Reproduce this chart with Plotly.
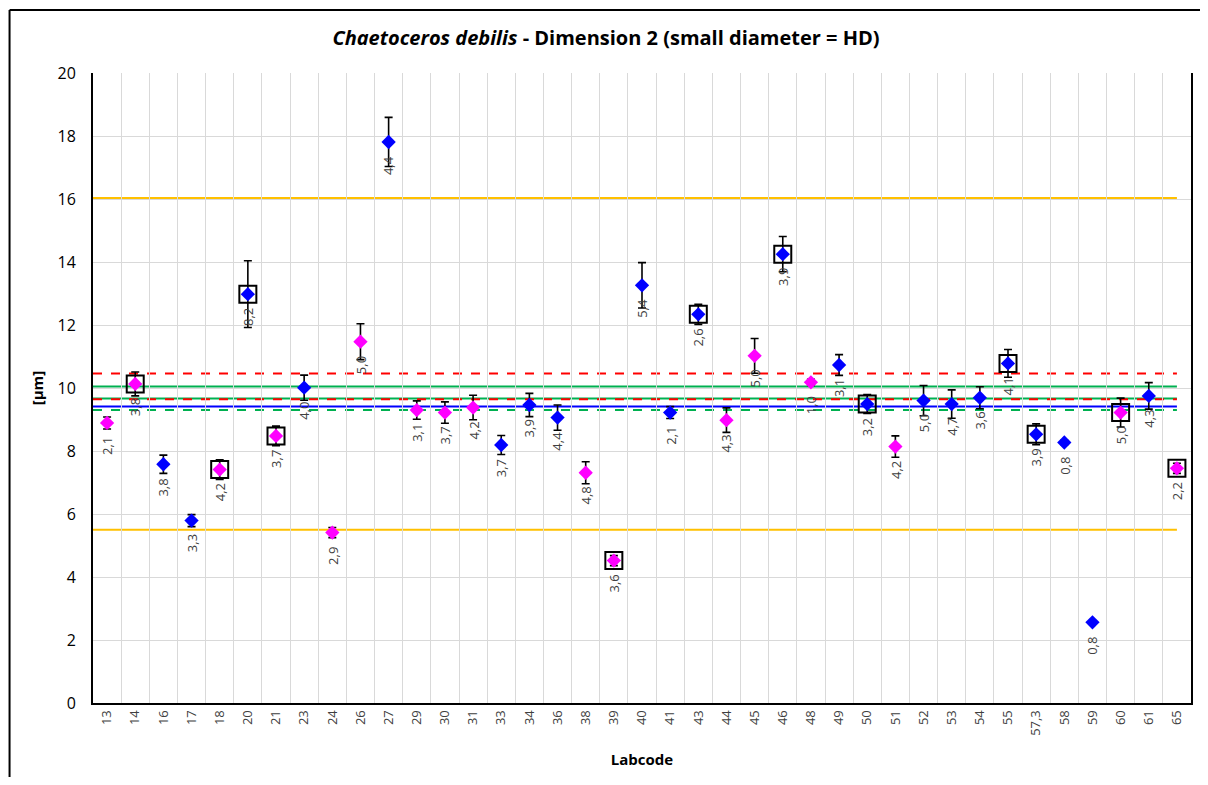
import plotly.graph_objects as go

labcodes = ["13", "14", "16", "17", "18", "20", "21", "23", "24", "26", "27", "29", "30",
            "31", "33", "34", "36", "38", "39", "40", "41", "43", "44", "45", "46", "48",
            "49", "50", "51", "52", "53", "54", "55", "57,3", "58", "59", "60", "61", "65"]
means = [8.89, 10.13, 7.58, 5.79, 7.41, 12.98, 8.48, 10.01, 5.41, 11.47, 17.81, 9.30, 9.22,
         9.38, 8.19, 9.46, 9.06, 7.31, 4.52, 13.26, 9.22, 12.34, 8.98, 11.02, 14.25, 10.18,
         10.73, 9.49, 8.14, 9.60, 9.49, 9.69, 10.78, 8.53, 8.27, 2.56, 9.22, 9.75, 7.45]
sds = [0.19, 0.38, 0.29, 0.19, 0.31, 1.06, 0.31, 0.40, 0.16, 0.57, 0.78, 0.29, 0.34,
       0.39, 0.30, 0.37, 0.40, 0.35, 0.16, 0.72, 0.19, 0.32, 0.39, 0.55, 0.56, 0.10,
       0.33, 0.30, 0.34, 0.48, 0.45, 0.35, 0.44, 0.33, 0.07, 0.02, 0.46, 0.42, 0.16]
cv = ["2,1", "3,8", "3,8", "3,3", "4,2", "8,2", "3,7", "4,0", "2,9", "5,0", "4,4", "3,1", "3,7",
      "4,2", "3,7", "3,9", "4,4", "4,8", "3,6", "5,4", "2,1", "2,6", "4,3", "5,0", "3,9", "1,0",
      "3,1", "3,2", "4,2", "5,0", "4,7", "3,6", "4,1", "3,9", "0,8", "0,8", "5,0", "4,3", "2,2"]
# m = magenta, b = blue
groups = ["m", "m", "b", "b", "m", "b", "m", "b", "m", "m", "b", "m", "m",
          "m", "b", "b", "b", "m", "m", "b", "b", "b", "m", "m", "b", "m",
          "b", "b", "m", "b", "b", "b", "b", "b", "b", "b", "m", "b", "m"]
boxed = ["14", "18", "20", "21", "39", "43", "46", "50", "55", "57,3", "60", "65"]

orange_limits = [16.03, 5.50]
red_dashed = [10.46, 9.64]
green_solid = [10.05, 9.67]
blue_solid = [9.41]
green_dashed = [9.30]

colors = {"m": "#FF00FF", "b": "#0000FF"}

fig = go.Figure()

# reference lines
def hline(y, color, dash):
    fig.add_shape(type="line", xref="x", yref="y", x0=-0.5, x1=len(labcodes) - 1,
                  y0=y, y1=y, line=dict(color=color, width=2, dash=dash), layer="below")

for v in orange_limits:
    hline(v, "#FFC000", "solid")
for v in green_solid:
    hline(v, "#00B050", "solid")
for v in red_dashed:
    hline(v, "#FF0000", "dash")
for v in blue_solid:
    hline(v, "#0000FF", "solid")
for v in green_dashed:
    hline(v, "#00B050", "dash")

box_y = [means[labcodes.index(b)] for b in boxed]
fig.add_trace(go.Scatter(
    x=boxed, y=box_y, mode="markers",
    marker=dict(symbol="square-open", size=17, color="black", line=dict(width=2)),
    hoverinfo="skip"
))

fig.add_trace(go.Scatter(
    x=labcodes, y=means, mode="markers",
    marker=dict(symbol="diamond", size=11, color=[colors[g] for g in groups]),
    error_y=dict(type="data", array=sds, visible=True, color="black", thickness=1.6, width=4)
))

# data labels (CV %) under each point; category index used as x position
for i, (m, c) in enumerate(zip(means, cv)):
    fig.add_annotation(x=i, y=m, text=c, showarrow=False, textangle=-90,
                       yanchor="top", yshift=-12,
                       font=dict(family="Open Sans", size=13, color="#404040"))

# outer chart frame (top and left edges only are visible)
fig.add_shape(type="line", xref="paper", yref="paper", x0=-0.076, x1=1.2, y0=1.1, y1=1.1,
              line=dict(color="black", width=2))
fig.add_shape(type="line", xref="paper", yref="paper", x0=-0.076, x1=-0.076, y0=-0.2, y1=1.1,
              line=dict(color="black", width=2))

fig.update_layout(
    width=1192, height=769,
    margin=dict(l=85, r=9, t=65, b=74),
    paper_bgcolor="white", plot_bgcolor="white",
    showlegend=False,
    font=dict(family="Open Sans", color="black"),
    title=dict(text="<b><i>Chaetoceros debilis</i> - Dimension 2 (small diameter = HD)</b>",
               x=0.5017, xanchor="center", y=0.961, yanchor="middle",
               font=dict(family="Open Sans", size=20, color="black")),
)
fig.update_xaxes(
    type="category", categoryorder="array", categoryarray=labcodes,
    tickson="boundaries", tickangle=-90, automargin=False,
    showgrid=True, gridcolor="#D9D9D9", gridwidth=1,
    showline=True, linecolor="black", linewidth=2, ticks="",
    tickfont=dict(size=13, color="#404040"),
    title=dict(text="<b>Labcode</b>", font=dict(family="Open Sans", size=15), standoff=20),
    range=[-0.5, len(labcodes) - 0.5],
)
fig.update_yaxes(
    range=[0, 20], dtick=2, showgrid=True, gridcolor="#D9D9D9", gridwidth=1,
    showline=True, linecolor="black", linewidth=2, mirror=True, ticks="",
    zeroline=False, tickfont=dict(size=16, color="black"), automargin=False,
    ticklabelstandoff=12,
    title=dict(text="<b>[µm]</b>", font=dict(family="Open Sans", size=15), standoff=10),
)

fig.write_html("out.html")
